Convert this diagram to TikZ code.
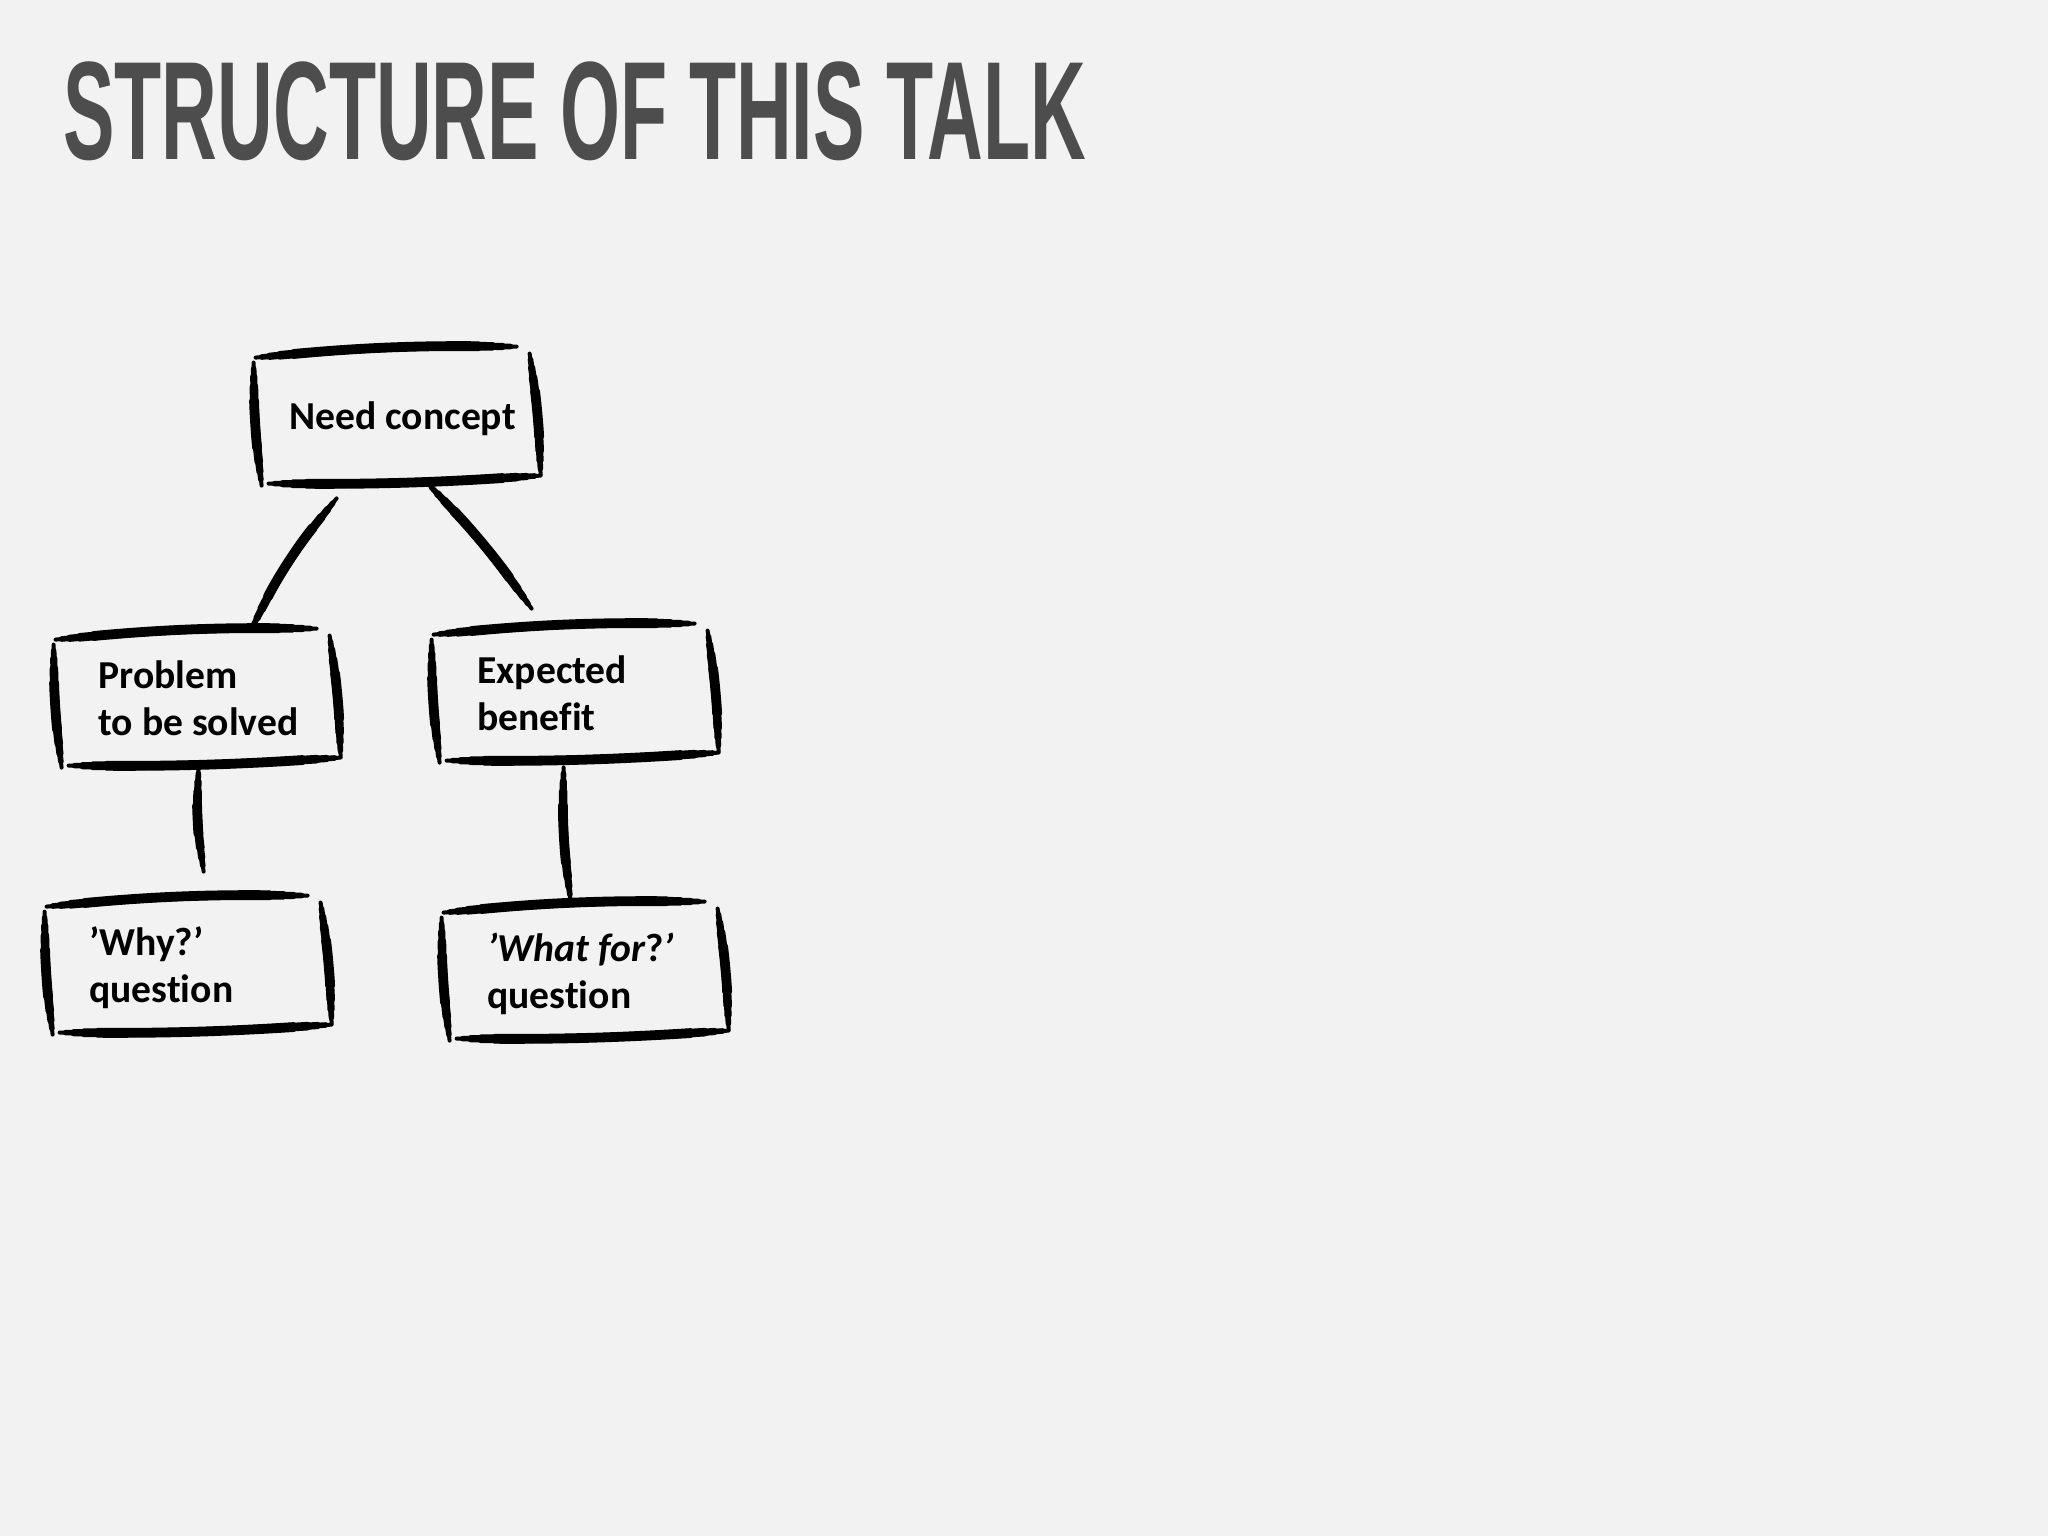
\documentclass[tikz,border=0pt]{standalone}
\usepackage{fontspec}
\usepackage{graphicx}
\setmainfont{Carlito}[Ligatures=NoCommon]
\newfontfamily\titlefont{Liberation Sans}
\usetikzlibrary{calc}
\definecolor{bg}{HTML}{F2F2F2}
\definecolor{titlegray}{HTML}{4D4D4D}
\tikzset{
  brushA/.style={line width=2.0pt, line cap=round, draw=black},
  brushB/.style={line width=2.8pt, line cap=round, draw=black, shorten <=3pt, shorten >=3pt},
  brushC/.style={line width=3.6pt, line cap=round, draw=black, shorten <=7pt, shorten >=7pt},
  brushD/.style={line width=4.3pt, line cap=round, draw=black, shorten <=12pt, shorten >=12pt},
  brushE/.style={line width=4.9pt, line cap=round, draw=black, shorten <=19pt, shorten >=19pt},
  boxnode/.style={minimum width=142pt, minimum height=64pt, inner sep=0pt, draw=none},
  txtnode/.style={anchor=base west, inner sep=0pt, font=\fontsize{19.8}{23.5}\selectfont\bfseries}
}
% tapered brush stroke: start, to-options, end
\newcommand{\brush}[3]{%
  \draw[brushA] #1 to[#2] #3;
  \draw[brushB] #1 to[#2] #3;
  \draw[brushC] #1 to[#2] #3;
  \draw[brushD] #1 to[#2] #3;
  \draw[brushE] #1 to[#2] #3;
}
\newcommand{\sketchbox}[1]{%
  \brush{($(#1.north west)+(1,6)$)}{bend left=3}{($(#1.north west)+(262,-5)$)}
  \brush{($(#1.north west)+(-1,11)$)}{bend right=3}{($(#1.north west)+(7,134)$)}
  \brush{($(#1.north west)+(275,2)$)}{bend left=3}{($(#1.north west)+(286,123)$)}
  \brush{($(#1.north west)+(14,132)$)}{bend right=2}{($(#1.north west)+(286,124)$)}
}
\begin{document}
\begin{tikzpicture}[x=0.5pt,y=-0.5pt]
  \fill[bg] (0,0) rectangle (2048,1536);
  \useasboundingbox (0,0) rectangle (2048,1536);

  \node[anchor=base west, inner sep=0pt, text=titlegray] (title) at (63,159)
    {\scalebox{0.551}[1]{\titlefont\bfseries\fontsize{70}{70}\selectfont STRUCTURE OF THIS TALK}};

  % boxes
  \node[boxnode] (need) at (397,416) {};
  \node[boxnode] (problem) at (197,698) {};
  \node[boxnode] (expected) at (575,693) {};
  \node[boxnode] (why) at (188,965) {};
  \node[boxnode] (whatfor) at (585,971) {};

  \sketchbox{need}
  \sketchbox{problem}
  \sketchbox{expected}
  \sketchbox{why}
  \sketchbox{whatfor}

  % texts
  \node[txtnode] (need-t) at (289,429) {Need concept};
  \node[txtnode] (problem-t) at (98,688) {\parbox[t]{160pt}{Problem\\to be solved}};
  \node[txtnode] (expected-t) at (477,683) {\parbox[t]{160pt}{Expected\\benefit}};
  \node[txtnode] (why-t) at (89,955) {\parbox[t]{160pt}{’Why?’\\question}};
  \node[txtnode] (whatfor-t) at (487,961) {\parbox[t]{160pt}{\textit{’What for}?\textit{’}\\question}};

  % connectors
  \brush{($(need.south west)+(82,18)$)}{bend right=6}{($(problem.north west)+(196,-3)$)}
  \brush{($(need.south west)+(173,3)$)}{bend left=4}{($(expected.north west)+(99,-20)$)}
  \brush{($(problem.south west)+(144,5)$)}{bend right=5}{($(why.north west)+(158,-29)$)}
  \brush{($(expected.south west)+(131,10)$)}{bend right=4}{($(whatfor.north west)+(128,-6)$)}
\end{tikzpicture}
\end{document}
